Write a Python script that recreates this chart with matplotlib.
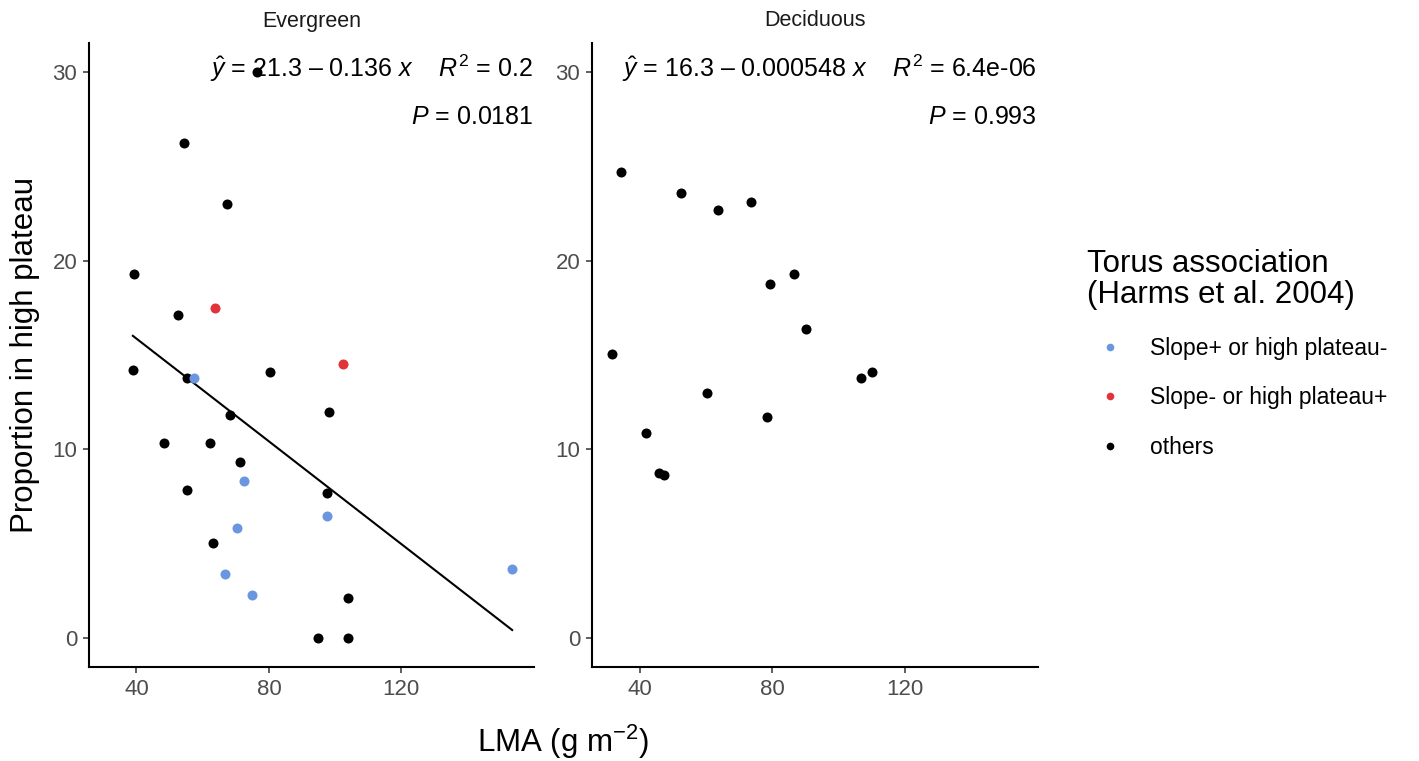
"""Proportion in high plateau vs LMA, faceted by leaf habit."""
import matplotlib
matplotlib.use("Agg")
import matplotlib.pyplot as plt
from matplotlib.lines import Line2D
import numpy as np

plt.rcParams["font.family"] = ["Liberation Sans", "DejaVu Sans"]
plt.rcParams["mathtext.fontset"] = "custom"
plt.rcParams["mathtext.rm"] = "Liberation Sans"
plt.rcParams["mathtext.it"] = "Liberation Sans:italic"

# --- data --------------------------------------------------------------
# Evergreen
ever_other_lma = [76.4, 54.4, 67.2, 39.2, 52.5, 38.9, 80.3, 55.3, 98.2, 68.4,
                  48.4, 62.2, 71.3, 55.3, 97.7, 63.0, 103.9, 94.9, 103.9]
ever_other_prop = [30.0, 26.2, 23.0, 19.3, 17.1, 14.2, 14.1, 13.8, 12.0, 11.8,
                   10.35, 10.35, 9.35, 7.84, 7.7, 5.03, 2.14, 0.0, 0.0]
ever_slope_lma = [57.4, 72.4, 97.7, 70.4, 66.6, 153.5, 74.8]
ever_slope_prop = [13.8, 8.34, 6.46, 5.82, 3.38, 3.66, 2.28]
ever_plateau_lma = [63.7, 102.5]
ever_plateau_prop = [17.5, 14.5]

# Deciduous (all "others")
dec_lma = [34.3, 52.5, 63.5, 73.6, 79.2, 86.6, 90.1, 31.8, 106.7, 110.0,
           60.2, 78.4, 42.0, 45.7, 47.4]
dec_prop = [24.67, 23.6, 22.7, 23.1, 18.73, 19.3, 16.35, 15.06, 13.8, 14.1,
            12.97, 11.73, 10.88, 8.76, 8.62]

# fitted line shown on the evergreen panel
fit_intercept = 21.3
fit_slope = -0.136

panel_titles = ["Evergreen", "Deciduous"]
eq_labels = [r"$\hat{y}$ = 21.3 – 0.136 $x$    $R^2$ = 0.2",
             r"$\hat{y}$ = 16.3 – 0.000548 $x$    $R^2$ = 6.4e-06"]
p_labels = [r"$P$ = 0.0181", r"$P$ = 0.993"]
legend_labels = ["Slope+ or high plateau-", "Slope- or high plateau+", "others"]

C_SLOPE = "#6A96E0"
C_PLATEAU = "#E2323A"
C_OTHER = "black"

W, H = 1419, 761
fig = plt.figure(figsize=(W / 100, H / 100), dpi=100)
ax_e = fig.add_axes([89 / W, 1 - 666.7 / H, 445 / W, 624 / H])
ax_d = fig.add_axes([592 / W, 1 - 666.7 / H, 446 / W, 624 / H])

pt = 52
ax_e.scatter(ever_other_lma, ever_other_prop, s=pt, color=C_OTHER, lw=0, zorder=3)
ax_e.scatter(ever_slope_lma, ever_slope_prop, s=pt, color=C_SLOPE, lw=0, zorder=3)
ax_e.scatter(ever_plateau_lma, ever_plateau_prop, s=pt, color=C_PLATEAU, lw=0, zorder=3)

all_ever = ever_other_lma + ever_slope_lma + ever_plateau_lma
xs = np.array([min(all_ever), max(all_ever)])
ax_e.plot(xs, fit_intercept + fit_slope * xs, color="black", lw=1.5, zorder=2)

ax_d.scatter(dec_lma, dec_prop, s=pt, color=C_OTHER, lw=0, zorder=3)

for ax, title, eq, p in zip([ax_e, ax_d], panel_titles, eq_labels, p_labels):
    ax.set_xlim(25.65, 160.1)
    ax.set_ylim(-1.52, 31.54)
    ax.set_xticks([40, 80, 120])
    ax.set_yticks([0, 10, 20, 30])
    for side in ("top", "right"):
        ax.spines[side].set_visible(False)
    for side in ("left", "bottom"):
        ax.spines[side].set_linewidth(1.5)
    ax.tick_params(direction="out", length=4.5, width=1.1, color="#333333",
                   labelsize=16, labelcolor="#4D4D4D", pad=4)
    ax.text(0.5, (666.7 - 21) / 624, title, transform=ax.transAxes,
            ha="center", va="center", fontsize=15.5, color="#1A1A1A")
    ax.text(0.998, 0.9595, eq, transform=ax.transAxes, ha="right", va="center",
            fontsize=18, color="black")
    ax.text(0.998, 0.881, p, transform=ax.transAxes, ha="right", va="center",
            fontsize=18, color="black")

fig.text(25 / W, 1 - 355 / H, "Proportion in high plateau", rotation=90,
         ha="center", va="center", fontsize=22.5)
fig.text(563 / W, 1 - 742 / H, r"LMA (g m$^{-2}$)", ha="center", va="center",
         fontsize=22.5)

handles = [Line2D([], [], ls="", marker="o", ms=5.5, mew=0, color=c)
           for c in (C_SLOPE, C_PLATEAU, C_OTHER)]
leg = fig.legend(handles, legend_labels, loc="upper left",
                 bbox_to_anchor=(1078 / W, 1 - 240 / H),
                 title="Torus association\n(Harms et al. 2004)",
                 title_fontsize=22.5, fontsize=16.5, frameon=False,
                 alignment="left", labelspacing=1.16, handletextpad=0.75,
                 handlelength=2.0, borderaxespad=0)
leg.get_title().set_linespacing(1.05)

fig.savefig("out.png", dpi=100)
